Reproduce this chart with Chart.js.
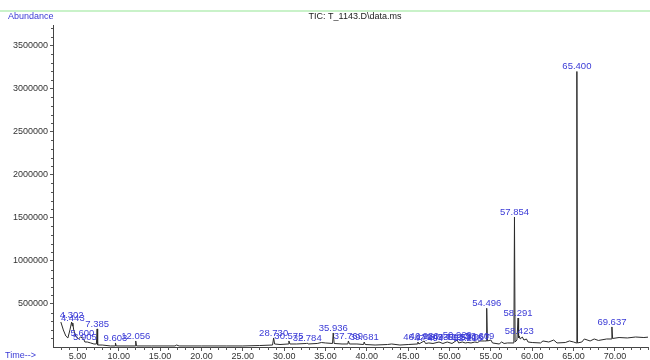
<!DOCTYPE html>
<html>
<head>
<meta charset="utf-8">
<script src="https://cdn.jsdelivr.net/npm/chart.js@4"></script>
<style>
  body { margin: 0; background: #fff; }
  canvas { display: block; }
</style>
</head>
<body>
<canvas id="ticChart" width="650" height="360"></canvas>
<script>
// retention time (min) and abundance of the TIC trace
const times = [
  3.0, 3.3, 3.6, 3.85, 4.1, 4.302, 4.38, 4.443, 4.55, 4.8, 5.1, 5.4, 5.6, 5.75, 5.905, 6.2, 6.6, 7.0, 7.3, 7.385, 7.45,
  8.0, 9.0, 9.55, 9.603, 9.7, 11.0, 12.0, 12.056, 12.15, 14.0, 16.8, 17.0, 17.3, 20.0, 23.0, 25.0, 27.0,
  28.6, 28.73, 28.85, 29.5, 30.5, 30.575, 30.7, 31.5, 32.7, 32.784, 32.9, 34.0, 34.5, 35.0, 35.85, 35.936, 36.05,
  37.0, 37.7, 37.769, 37.9, 38.8, 39.6, 39.681, 39.8, 41.0, 42.5, 43.0, 44.0, 45.0, 46.1, 46.171, 46.3,
  46.93, 47.1, 47.494, 48.0, 48.73, 49.2, 49.719, 50.3, 50.929, 51.1, 51.54, 51.9, 52.218, 52.6, 53.067, 53.4,
  53.669, 54.2, 54.42, 54.496, 54.58, 55.0, 55.2, 56.0, 56.3, 56.6, 57.0, 57.78, 57.854, 57.93, 58.15, 58.291,
  58.35, 58.423, 58.55, 58.8, 59.0, 59.3, 59.5, 60.0, 61.0, 61.3, 62.0, 62.6, 63.0, 64.0, 64.5, 65.0, 65.33,
  65.4, 65.47, 66.0, 66.3, 67.0, 67.5, 68.0, 69.0, 69.56, 69.637, 69.72, 70.5, 71.5, 72.5, 73.5, 74.2
];
const abundance = [
  290000, 198000, 128000, 105000, 198000, 290000, 244000, 279000, 198000, 128000, 93000, 116000, 105000, 93000, 58000, 58000, 47000, 35000, 35000, 210000, 23000,
  23000, 12000, 12000, 47000, 12000, 12000, 12000, 70000, 12000, 12000, 12000, 23000, 12000, 12000, 12000, 12000, 17000,
  23000, 105000, 35000, 29000, 35000, 70000, 35000, 35000, 41000, 47000, 35000, 41000, 52000, 47000, 41000, 163000, 41000,
  35000, 35000, 70000, 35000, 35000, 29000, 58000, 29000, 23000, 29000, 35000, 23000, 29000, 35000, 58000, 35000,
  70000, 41000, 47000, 41000, 58000, 41000, 58000, 41000, 81000, 47000, 58000, 47000, 52000, 47000, 58000, 52000,
  70000, 70000, 70000, 450000, 70000, 81000, 47000, 35000, 58000, 41000, 47000, 47000, 1510000, 58000, 81000, 337000,
  105000, 128000, 93000, 116000, 81000, 93000, 58000, 52000, 47000, 70000, 58000, 81000, 47000, 52000, 70000, 58000, 47000,
  3200000, 47000, 58000, 93000, 70000, 93000, 76000, 93000, 93000, 233000, 99000, 110000, 105000, 116000, 110000, 116000
];

// labelled peaks: retention time and apex abundance
const peakTimes = [4.302, 4.443, 5.600, 5.905, 7.385, 9.603, 12.056, 28.730, 30.575, 32.784, 35.936, 37.769, 39.681,
  46.171, 46.930, 47.494, 48.730, 49.719, 50.929, 51.540, 52.218, 53.067, 53.669, 54.496, 57.854, 58.291, 58.423, 65.400, 69.637];
const peakHeights = [310000, 279000, 105000, 58000, 210000, 47000, 70000, 105000, 70000, 47000, 163000, 70000, 58000,
  58000, 70000, 47000, 58000, 58000, 81000, 58000, 52000, 58000, 70000, 450000, 1510000, 337000, 128000, 3200000, 233000];

// axis tick values
const yTicks = [500000, 1000000, 1500000, 2000000, 2500000, 3000000, 3500000];
const xTicks = [5, 10, 15, 20, 25, 30, 35, 40, 45, 50, 55, 60, 65, 70];

const FONT = 'Liberation Sans, Arial, sans-serif';
const BLUE = '#3a3ad6';

const points = times.map((t, i) => ({ x: t, y: abundance[i] }));

const decorPlugin = {
  id: 'decor',
  afterDraw(chart) {
    const ctx = chart.ctx;
    const xs = chart.scales.x;
    const ys = chart.scales.y;
    const area = chart.chartArea;
    ctx.save();

    // top green rule
    ctx.strokeStyle = '#c9f2c9';
    ctx.lineWidth = 2;
    ctx.beginPath();
    ctx.moveTo(0, 11);
    ctx.lineTo(650, 11);
    ctx.stroke();

    // header texts
    ctx.font = '9px ' + FONT;
    ctx.textBaseline = 'middle';
    ctx.fillStyle = '#222';
    ctx.textAlign = 'center';
    ctx.fillText('TIC: T_1143.D\\data.ms', 355, 17);
    ctx.fillStyle = BLUE;
    ctx.textAlign = 'left';
    ctx.fillText('Abundance', 8, 17);
    ctx.fillText('Time-->', 5, 356);

    // minor ticks
    ctx.strokeStyle = '#555';
    ctx.lineWidth = 1;
    ctx.beginPath();
    for (let v = 100000; v < ys.max; v += 100000) {
      if (v % 500000 === 0) continue;
      const py = Math.round(ys.getPixelForValue(v)) + 0.5;
      ctx.moveTo(area.left - 2, py);
      ctx.lineTo(area.left, py);
    }
    for (let t = Math.ceil(xs.min); t <= xs.max; t++) {
      if (t % 5 === 0) continue;
      const px = Math.round(xs.getPixelForValue(t)) + 0.5;
      ctx.moveTo(px, area.bottom);
      ctx.lineTo(px, area.bottom + 3);
    }
    ctx.stroke();

    // peak labels
    ctx.font = '9.5px ' + FONT;
    ctx.fillStyle = BLUE;
    ctx.textAlign = 'center';
    ctx.textBaseline = 'alphabetic';
    peakTimes.forEach((t, i) => {
      const px = xs.getPixelForValue(t);
      const py = ys.getPixelForValue(peakHeights[i]);
      ctx.fillText(t.toFixed(3), px, py - 2);
    });
    ctx.restore();
  }
};

new Chart(document.getElementById('ticChart').getContext('2d'), {
  type: 'line',
  data: {
    datasets: [{
      label: 'TIC',
      data: points,
      borderColor: '#2a2a2a',
      borderWidth: 1,
      pointRadius: 0,
      tension: 0,
      fill: false
    }]
  },
  options: {
    responsive: false,
    animation: false,
    layout: { padding: { top: 25, right: 2, left: 0, bottom: 0 } },
    plugins: {
      legend: { display: false },
      tooltip: { enabled: false }
    },
    scales: {
      x: {
        type: 'linear',
        min: 2.05,
        max: 74.0,
        afterBuildTicks(scale) { scale.ticks = xTicks.map(v => ({ value: v })); },
        afterFit(scale) { scale.height = 13; },
        border: { display: true, color: '#444', width: 1 },
        grid: { drawOnChartArea: false, drawTicks: true, tickLength: 4, color: '#555' },
        ticks: {
          autoSkip: false,
          maxRotation: 0,
          padding: 0,
          color: '#333',
          font: { family: FONT, size: 9 },
          callback: (v) => Number(v).toFixed(2)
        }
      },
      y: {
        min: 0,
        max: 3740000,
        afterBuildTicks(scale) { scale.ticks = yTicks.map(v => ({ value: v })); },
        afterFit(scale) { scale.width = 53; },
        border: { display: true, color: '#444', width: 1 },
        grid: { drawOnChartArea: false, drawTicks: true, tickLength: 3, color: '#555' },
        ticks: {
          autoSkip: false,
          padding: 2,
          color: '#333',
          font: { family: FONT, size: 9 },
          callback: (v) => String(v)
        }
      }
    }
  },
  plugins: [decorPlugin]
});
</script>
</body>
</html>
